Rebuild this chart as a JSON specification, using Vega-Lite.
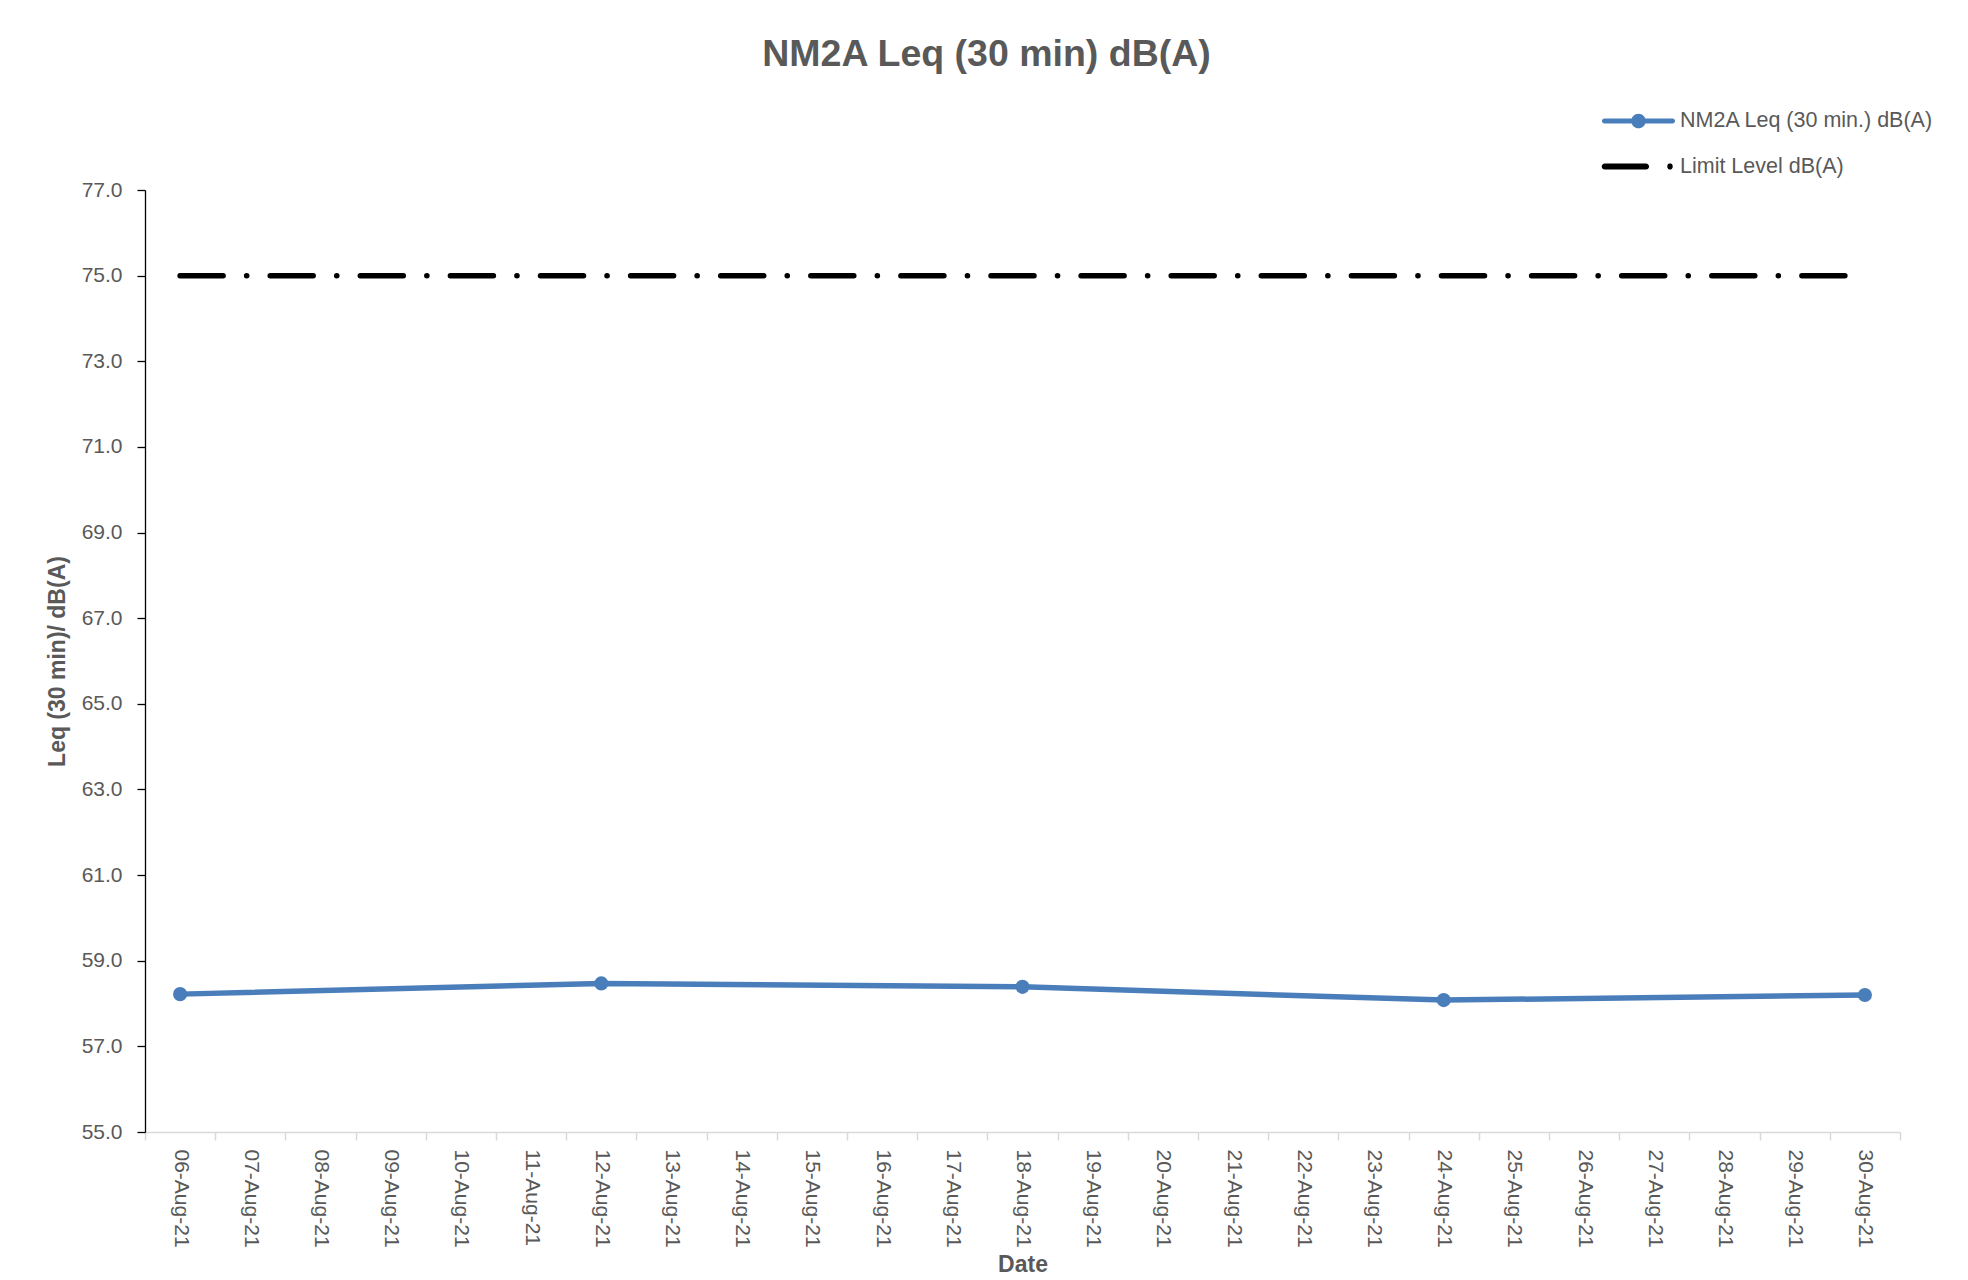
{
  "$schema": "https://vega.github.io/schema/vega-lite/v6.json",
  "width": 1755,
  "height": 942,
  "autosize": {"type": "none"},
  "padding": {"left": 145, "top": 190, "right": 68, "bottom": 148},
  "background": "white",
  "config": {"view": {"stroke": null}, "font": "Liberation Sans"},
  "title": {
    "text": "NM2A Leq (30 min) dB(A)",
    "fontSize": 37.5,
    "fontWeight": "bold",
    "color": "#595959",
    "font": "Liberation Sans",
    "anchor": "middle",
    "dx": -36,
    "offset": -4,
    "baseline": "alphabetic"
  },
  "data": {
    "values": [
      {"date": "06-Aug-21", "series": "NM2A Leq (30 min.) dB(A)", "value": 58.22},
      {"date": "12-Aug-21", "series": "NM2A Leq (30 min.) dB(A)", "value": 58.47},
      {"date": "18-Aug-21", "series": "NM2A Leq (30 min.) dB(A)", "value": 58.39},
      {"date": "24-Aug-21", "series": "NM2A Leq (30 min.) dB(A)", "value": 58.08},
      {"date": "30-Aug-21", "series": "NM2A Leq (30 min.) dB(A)", "value": 58.2},
      {"date": "06-Aug-21", "series": "Limit Level dB(A)", "value": 75},
      {"date": "12-Aug-21", "series": "Limit Level dB(A)", "value": 75},
      {"date": "18-Aug-21", "series": "Limit Level dB(A)", "value": 75},
      {"date": "24-Aug-21", "series": "Limit Level dB(A)", "value": 75},
      {"date": "30-Aug-21", "series": "Limit Level dB(A)", "value": 75}
    ]
  },
  "encoding": {
    "x": {
      "field": "date",
      "type": "ordinal",
      "bandPosition": 0.5,
      "sort": null,
      "scale": {
        "type": "band",
        "paddingInner": 0,
        "paddingOuter": 0,
        "domain": ["06-Aug-21", "07-Aug-21", "08-Aug-21", "09-Aug-21", "10-Aug-21", "11-Aug-21", "12-Aug-21", "13-Aug-21", "14-Aug-21", "15-Aug-21", "16-Aug-21", "17-Aug-21", "18-Aug-21", "19-Aug-21", "20-Aug-21", "21-Aug-21", "22-Aug-21", "23-Aug-21", "24-Aug-21", "25-Aug-21", "26-Aug-21", "27-Aug-21", "28-Aug-21", "29-Aug-21", "30-Aug-21"]
      },
      "axis": {
        "title": "Date",
        "labelAngle": 90,
        "tickBand": "extent",
        "grid": false,
        "domainColor": "#d9d9d9",
        "domainWidth": 1.5,
        "tickColor": "#d9d9d9",
        "tickWidth": 1.5,
        "tickSize": 8,
        "labelPadding": 9,
        "labelFontSize": 21,
        "labelColor": "#595959",
        "labelOverlap": false,
        "titleFontSize": 23,
        "titleFontWeight": "bold",
        "titleColor": "#595959",
        "titlePadding": 6
      }
    },
    "y": {
      "field": "value",
      "type": "quantitative",
      "scale": {"domain": [55, 77], "nice": false, "zero": false},
      "axis": {
        "title": "Leq (30 min)/ dB(A)",
        "values": [55, 57, 59, 61, 63, 65, 67, 69, 71, 73, 75, 77],
        "format": ".1f",
        "grid": false,
        "domainColor": "#000000",
        "domainWidth": 1.3,
        "tickColor": "#000000",
        "tickWidth": 1.3,
        "tickSize": 8,
        "labelPadding": 15,
        "labelFontSize": 21,
        "labelColor": "#595959",
        "titleFontSize": 23,
        "titleFontWeight": "bold",
        "titleColor": "#595959",
        "titlePadding": 12
      }
    },
    "color": {
      "field": "series",
      "type": "nominal",
      "scale": {
        "domain": ["NM2A Leq (30 min.) dB(A)", "Limit Level dB(A)"],
        "range": ["#4A7EBB", "#000000"]
      },
      "legend": {
        "orient": "none",
        "legendX": 1472,
        "legendY": -90.5,
        "title": null,
        "padding": 0,
        "symbolSize": 1849,
        "symbolStrokeWidth": 0,
        "labelFontSize": 21.5,
        "labelColor": "#595959",
        "labelFont": "Liberation Sans",
        "labelOffset": 20,
        "labelLimit": 500,
        "rowPadding": 13.5,
        "encode": {
          "symbols": {
            "update": {
              "shape": {"signal": "datum.value == 'Limit Level dB(A)' ? 'M-1.57,-0.14L0.35,-0.14A0.14,0.14 0 0,1 0.35,0.14L-1.57,0.14A0.14,0.14 0 0,1 -1.57,-0.14Z M1.34,0A0.126,0.126 0 1,1 1.59,0A0.126,0.126 0 1,1 1.34,0Z' : 'M-1.584,-0.116L1.584,-0.116A0.116,0.116 0 0,1 1.584,0.116L-1.584,0.116A0.116,0.116 0 0,1 -1.584,-0.116Z M-0.34,0A0.34,0.34 0 1,1 0.34,0A0.34,0.34 0 1,1 -0.34,0Z'"},
              "fill": {"signal": "datum.value == 'Limit Level dB(A)' ? '#000000' : '#4A7EBB'"},
              "strokeWidth": {"value": 0},
              "opacity": {"value": 1}
            }
          }
        }
      }
    }
  },
  "layer": [
    {
      "transform": [{"filter": "datum.series == 'Limit Level dB(A)'"}],
      "mark": {"type": "line", "strokeDash": [43, 23.5, 0.1, 23.5], "strokeCap": "round", "strokeWidth": 5.5}
    },
    {
      "transform": [{"filter": "datum.series != 'Limit Level dB(A)'"}],
      "mark": {"type": "line", "strokeWidth": 5.5, "point": {"filled": true, "size": 200, "opacity": 1}}
    }
  ]
}
